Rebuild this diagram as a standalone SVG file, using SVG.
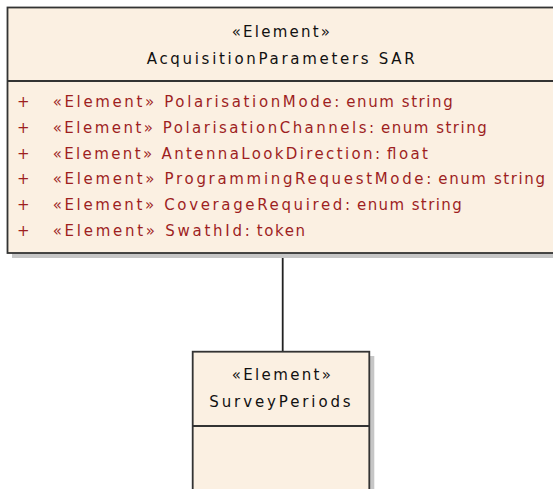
<svg xmlns="http://www.w3.org/2000/svg" width="553" height="489" viewBox="0 0 553 489">
<style>
.box{fill:#fbf0e2;stroke:#333;stroke-width:1.8}
.shadow{fill:#c6c6c6}
.div{stroke:#333;stroke-width:1.8}
.t{font-family:"DejaVu Sans","Liberation Sans",sans-serif;font-size:15px}
.h{fill:#111}
.a{fill:#9e1f1f}
.conn{stroke:#222;stroke-width:1.8;fill:none}
</style>
<rect width="553" height="489" fill="#ffffff"/>
<g id="connectors">
<line class="conn" x1="282.7" y1="253" x2="282.7" y2="352"/>
</g>
<g id="node-acquisition">
<rect class="shadow" x="12" y="253" width="545" height="5"/>
<rect class="box" x="7.5" y="7.5" width="548" height="245.5"/>
<line class="div" x1="7.5" y1="81" x2="556" y2="81"/>
<text class="t h" x="231.7" y="37.3" textLength="98.3" lengthAdjust="spacing">«Element»</text>
<text class="t h" x="146.7" y="64.3" textLength="268" lengthAdjust="spacing">AcquisitionParameters SAR</text>
<g class="t a">
<text x="17" y="107">+</text>
<text x="17" y="132.8">+</text>
<text x="17" y="158.6">+</text>
<text x="17" y="184.4">+</text>
<text x="17" y="210.2">+</text>
<text x="17" y="236">+</text>
<text x="52.7" y="107" textLength="286.6" lengthAdjust="spacing">«Element» PolarisationMode:</text>
<text x="346.3" y="107" textLength="106.4" lengthAdjust="spacing">enum string</text>
<text x="52.7" y="132.8" textLength="321.3" lengthAdjust="spacing">«Element» PolarisationChannels:</text>
<text x="381" y="132.8" textLength="105.7" lengthAdjust="spacing">enum string</text>
<text x="52.7" y="158.6" textLength="327.3" lengthAdjust="spacing">«Element» AntennaLookDirection:</text>
<text x="387" y="158.6" textLength="41" lengthAdjust="spacing">float</text>
<text x="52.7" y="184.4" textLength="378.6" lengthAdjust="spacing">«Element» ProgrammingRequestMode:</text>
<text x="438.3" y="184.4" textLength="106.7" lengthAdjust="spacing">enum string</text>
<text x="52.7" y="210.2" textLength="297.3" lengthAdjust="spacing">«Element» CoverageRequired:</text>
<text x="357" y="210.2" textLength="104.7" lengthAdjust="spacing">enum string</text>
<text x="52.7" y="236" textLength="197" lengthAdjust="spacing">«Element» SwathId:</text>
<text x="256.7" y="236" textLength="48.3" lengthAdjust="spacing">token</text>
</g>
</g>
<g id="node-surveyperiods">
<rect class="shadow" x="369.3" y="356" width="5" height="140"/>
<rect class="box" x="192.7" y="351.7" width="176.6" height="145"/>
<line class="div" x1="192.7" y1="426" x2="369.3" y2="426"/>
<text class="t h" x="231.7" y="380" textLength="99.3" lengthAdjust="spacing">«Element»</text>
<text class="t h" x="209.3" y="406.7" textLength="141.4" lengthAdjust="spacing">SurveyPeriods</text>
</g>
</svg>
